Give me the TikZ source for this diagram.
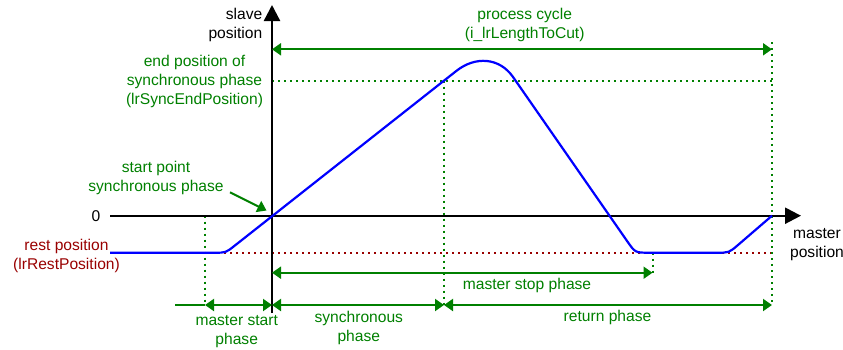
\documentclass[tikz,border=0pt]{standalone}
\usepackage{fontspec}
\setmainfont{Liberation Sans}
\usetikzlibrary{arrows.meta}
\definecolor{dgreen}{RGB}{0,128,0}
\definecolor{dred}{RGB}{153,0,0}
\tikzset{gtip/.tip={Triangle[length=9pt,width=12pt]}}
\begin{document}
\begin{tikzpicture}[x=1pt,y=-1pt,
  lbl/.style={font=\fontsize{15.6}{19}\selectfont, align=center, inner sep=0pt},
  axisline/.style={line width=2.4pt, -{Triangle[length=16pt,width=16pt]}},
  gline/.style={dgreen, line width=2pt},
  gdot/.style={dgreen, line width=2pt, dash pattern=on 2pt off 4pt},
  rdot/.style={dred, line width=2pt, dash pattern=on 2pt off 4pt},
  curve/.style={blue, line width=2.2pt, line join=round}]
\useasboundingbox (0,0) rectangle (843,349);

% coordinates
\coordinate (O) at (272,215.7);
\coordinate (yb) at (272,313);
\coordinate (yt) at (272,5);
\coordinate (xl) at (110,215.7);
\coordinate (xr) at (801,215.7);
\coordinate (pcL) at (272,49.3);
\coordinate (pcR) at (772,49.3);
\coordinate (epL) at (272,80.7);
\coordinate (epR) at (772,80.7);
\coordinate (v1t) at (205,215.7);
\coordinate (v1b) at (205,305);
\coordinate (v2t) at (444,80.7);
\coordinate (v2b) at (444,305);
\coordinate (v3t) at (772,42);
\coordinate (v3b) at (772,305);
\coordinate (v4t) at (652.5,252.7);
\coordinate (v4b) at (652.5,272.7);
\coordinate (rpL) at (110,252.7);
\coordinate (rpR) at (772,252.7);
\coordinate (bL) at (175,305);
\coordinate (b0) at (272,305);
\coordinate (msL) at (272,272.7);
\coordinate (msR) at (652.5,272.7);
\coordinate (spA) at (230,192.3);
\coordinate (spB) at (266.5,210.5);

% dotted guides
\draw[rdot] (rpL) -- (rpR);
\draw[gdot] (epL) -- (epR);
\draw[gdot] (v1t) -- (v1b);
\draw[gdot] (v2t) -- (v2b);
\draw[gdot] (v3t) -- (v3b);
\draw[gdot] (v4t) -- (v4b);

% axes
\draw[axisline] (yb) -- (yt);
\draw[axisline] (xl) -- (xr);

% blue motion profile
\draw[curve] (110,252.7) -- (214.75,252.7)
  .. controls (225.75,252.7) .. (234.4,245.9)
  -- (456.5,70.8)
  .. controls (475.4,55.95) and (499.4,57.4) .. (513.1,77.1)
  -- (627.2,241.2)
  .. controls (635.2,252.7) .. (649.2,252.7)
  -- (717,252.7)
  .. controls (729,252.7) .. (738.1,244.9)
  -- (772,215.7);

% green dimension arrows
\draw[gline, gtip-gtip] (pcL) -- (pcR);
\draw[gline, gtip-gtip] (msL) -- (msR);
\draw[gline] (bL) -- (v1b);
\draw[gline, gtip-gtip] (v1b) -- (b0);
\draw[gline, gtip-gtip] (b0) -- (v2b);
\draw[gline, gtip-gtip] (v2b) -- (v3b);
\draw[gline, -gtip] (spA) -- (spB);

% labels
\node[lbl, anchor=east, align=right] (slave) at (262.5,24.5) {slave\\position};
\node[lbl] (zero) at (96,215.7) {0};
\node[lbl] (mpos) at (817,244.2) {master\\position};
\node[lbl, dgreen] (proc) at (524.7,24.5) {process cycle\\(i\_lrLengthToCut)};
\node[lbl, dgreen] (endpos) at (194.5,81.7) {end position of\\synchronous phase\\(lrSyncEndPosition)};
\node[lbl, dgreen] (startpt) at (156,178) {start point\\synchronous phase};
\node[lbl, dred] (rest) at (66.5,255.5) {rest position\\(lrRestPosition)};
\node[lbl, dgreen] (mstop) at (527,285.7) {master stop phase};
\node[lbl, dgreen] (mstart) at (236.7,331.2) {master start\\phase};
\node[lbl, dgreen] (sync) at (358.8,327.5) {synchronous\\phase};
\node[lbl, dgreen] (ret) at (607.5,317.7) {return phase};
\end{tikzpicture}
\end{document}
